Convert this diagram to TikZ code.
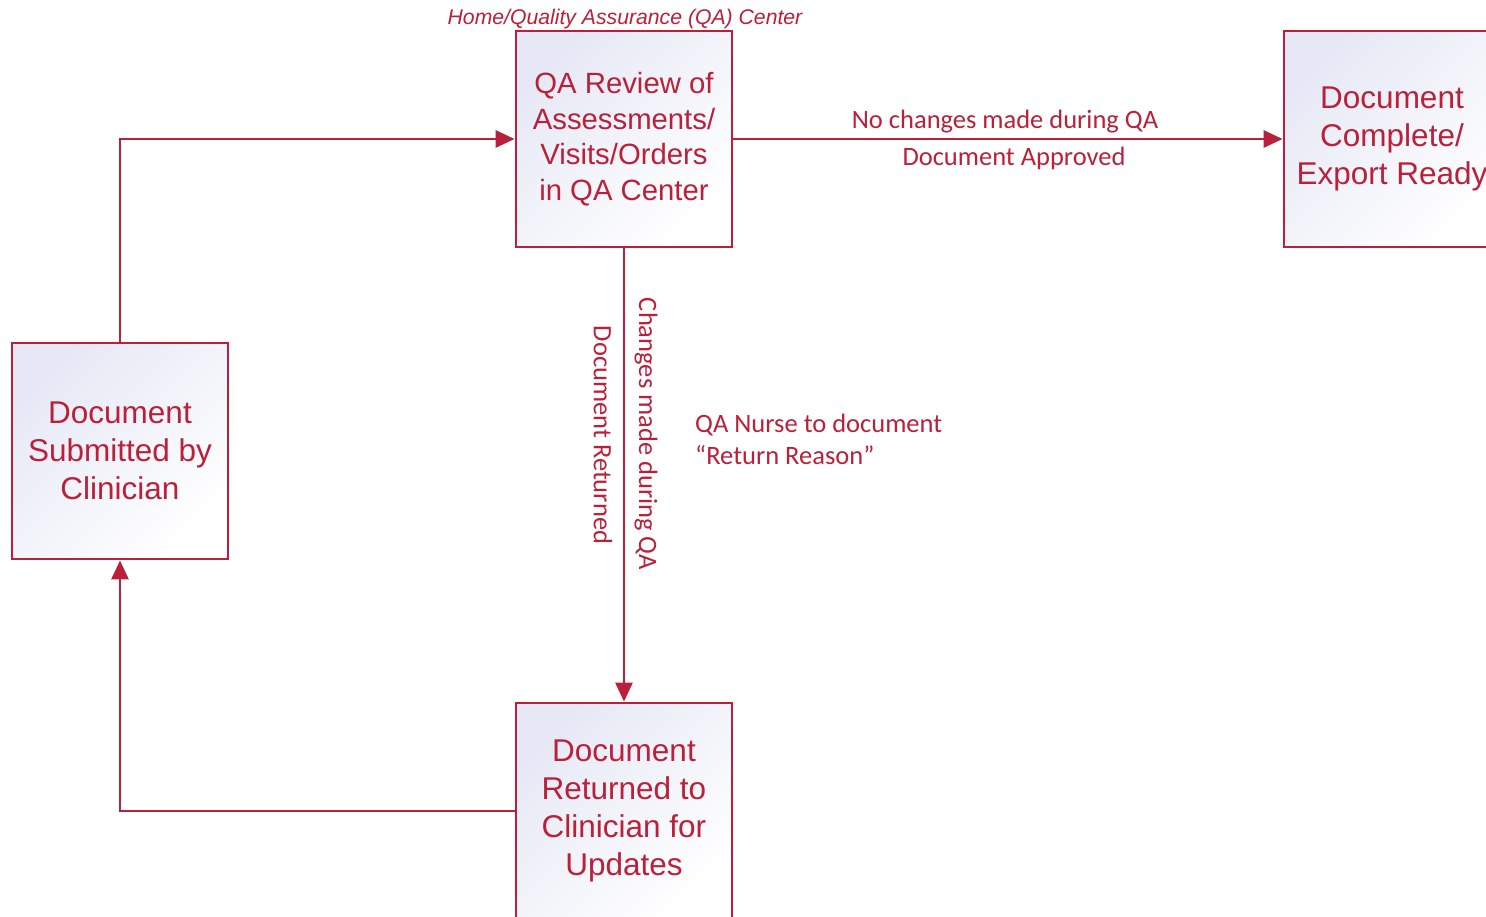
\documentclass[tikz,border=0pt]{standalone}
\usepackage{fontspec}
\setmainfont{Liberation Sans}
\newfontfamily\lblfont{Carlito}
\usetikzlibrary{arrows.meta}
\definecolor{qred}{RGB}{186,32,58}
\definecolor{lav}{RGB}{230,233,245}
\begin{document}
\begin{tikzpicture}[x=1pt,y=-1pt,
  boxnode/.style={draw=qred, line width=2.8pt, top color=lav, bottom color=white, shading angle=45,
    minimum width=216pt, minimum height=216pt, inner sep=0pt, align=center, text=qred,
    font=\fontsize{31.5}{38}\selectfont},
  conn/.style={draw=qred, line width=2.8pt, -{Triangle[length=19pt,width=17pt]}},
  lbl/.style={text=qred, font=\lblfont\fontsize{26.5}{32}\selectfont, inner sep=0pt},
]
\useasboundingbox (0,0) rectangle (1486,917);
\fill[white] (0,0) rectangle (1486,917);

\node[boxnode, font=\fontsize{29.3}{35.5}\selectfont] (qa) at (624,139) {QA Review of\\Assessments/\\Visits/Orders\\in QA Center};
\node[boxnode] (comp) at (1392,139) {Document\\Complete/\\Export Ready};
\node[boxnode] (sub) at (120,451) {Document\\Submitted by\\Clinician};
\node[boxnode] (ret) at (624,811) {Document\\Returned to\\Clinician for\\Updates};

\node[text=qred, font=\itshape\fontsize{21.2}{24}\selectfont, inner sep=0pt] (hdr) at (625,19) {Home/Quality Assurance (QA) Center};

\coordinate (c1) at (sub.north |- qa.west);
\draw[conn] (sub.north) -- (c1) -- (qa.west);
\draw[conn] (qa.east) -- (comp.west);
\draw[conn] (qa.south) -- (ret.north);
\coordinate (c2) at (sub.south |- ret.west);
\draw[conn] (ret.west) -- (c2) -- (sub.south);

\node[lbl] (l1) at (1005,122) {No changes made during QA};
\node[lbl] (l2) at (1014,158) {Document Approved};
\node[lbl, rotate=-90] (l3) at (646,434) {Changes made during QA};
\node[lbl, rotate=-90] (l4) at (603,435) {Document Returned};
\node[lbl, anchor=west, align=left] (l5) at (695,439) {QA Nurse to document\\“Return Reason”};
\end{tikzpicture}
\end{document}
